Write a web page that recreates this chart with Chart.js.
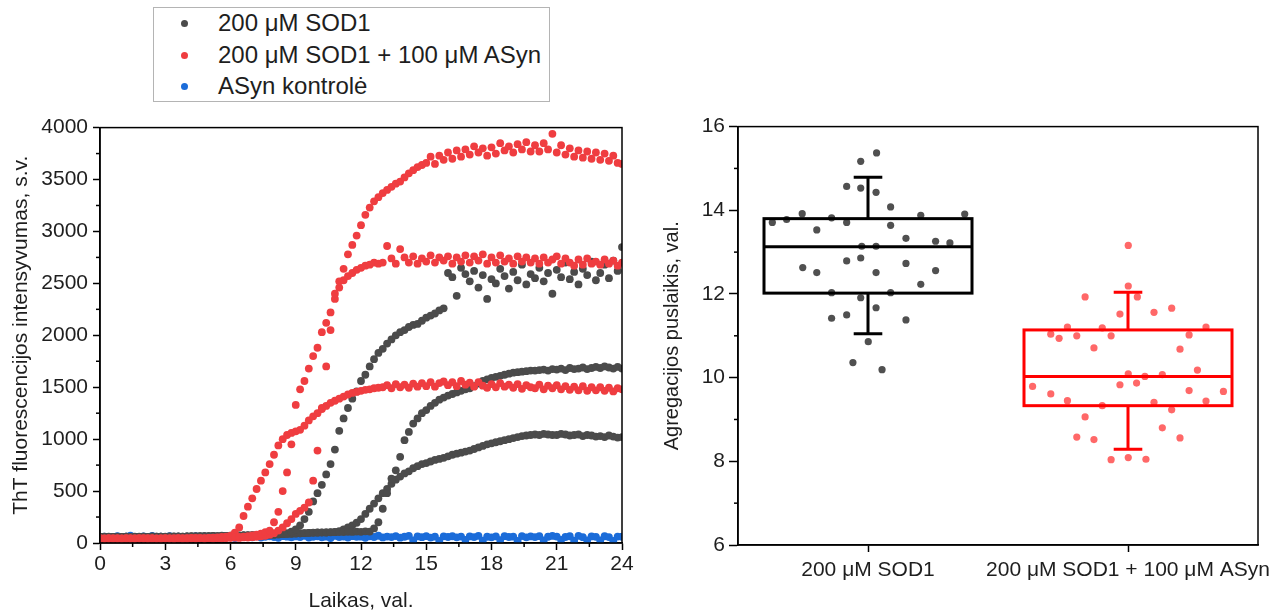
<!DOCTYPE html>
<html>
<head>
<meta charset="utf-8">
<script src="https://cdn.jsdelivr.net/npm/chart.js@4/dist/chart.umd.min.js"></script>
<style>
  html, body { margin: 0; padding: 0; background: #fff; }
  body { width: 1285px; height: 614px; position: relative; overflow: hidden; font-family: 'Liberation Sans', Arial, sans-serif; }
  #kinetics { position: absolute; left: 0; top: 110px; }
  #halftimes { position: absolute; left: 650px; top: 110px; }
  #legend { position: absolute; left: 153px; top: 7px; width: 395px; height: 93px; border: 1.5px solid #b4b4b4; background: #fff; }
  .row { position: absolute; left: 0; height: 30px; line-height: 30px; font-size: 24px; color: #1e1e1e; white-space: nowrap; }
  .row .dot { position: absolute; left: 27px; top: 12px; width: 7px; height: 7px; border-radius: 50%; }
  .row .txt { position: absolute; left: 64px; }
</style>
</head>
<body>
<div id="legend"></div>
<canvas id="kinetics" width="650" height="504"></canvas>
<canvas id="halftimes" width="635" height="504"></canvas>
<script>
// ---- left panel: ThT kinetics ----
const hours = [0,0.2,0.4,0.6,0.8,1,1.2,1.4,1.6,1.8,2,2.2,2.4,2.6,2.8,3,3.2,3.4,3.6,3.8,4,4.2,4.4,4.6,4.8,5,5.2,5.4,5.6,5.8,6,6.2,6.4,6.6,6.8,7,7.2,7.4,7.6,7.8,8,8.2,8.4,8.6,8.8,9,9.2,9.4,9.6,9.8,10,10.2,10.4,10.6,10.8,11,11.2,11.4,11.6,11.8,12,12.2,12.4,12.6,12.8,13,13.2,13.4,13.6,13.8,14,14.2,14.4,14.6,14.8,15,15.2,15.4,15.6,15.8,16,16.2,16.4,16.6,16.8,17,17.2,17.4,17.6,17.8,18,18.2,18.4,18.6,18.8,19,19.2,19.4,19.6,19.8,20,20.2,20.4,20.6,20.8,21,21.2,21.4,21.6,21.8,22,22.2,22.4,22.6,22.8,23,23.2,23.4,23.6,23.8,24];

// 200 uM SOD1 + 100 uM ASyn (three wells)
const mixWell1 = [
  42,45,40,44,43, 41,46,43,40,45, 44,42,46,43,41, 45,43,40,44,46,
  42,45,43,47,44, 46,44,48,45,50, 52,55,58,62,66, 72,80,90,105,120,
  200,300,500,680,950, 1330,1480,1560,1680,1800, 1880,2030,2120,2220,2400, 2520,2640,2780,2870,2960,
  3060,3160,3230,3290,3330, 3370,3400,3430,3460,3480, 3520,3560,3590,3620,3640, 3660,3720,3650,3730,3690,
  3760,3700,3780,3720,3790, 3740,3820,3760,3800,3730, 3810,3750,3850,3780,3820, 3760,3840,3790,3860,3770,
  3830,3770,3850,3790,3940, 3760,3830,3740,3800,3720, 3780,3710,3770,3700,3760, 3690,3750,3680,3730,3660,
  3650
];
const mixWell2 = [
  46,43,47,44,42, 45,42,46,44,47, 43,46,42,45,44, 47,44,42,46,43,
  45,48,44,46,43, 47,45,49,46,48, 50,52,49,54,53, 56,60,64,70,80,
  95,120,150,190,230, 280,310,340,390,600, 890,1300,1700,2050,2350, 2460,2530,2570,2600,2630,
  2650,2670,2680,2700,2690, 2700,2860,2740,2690,2830, 2750,2700,2760,2690,2740, 2710,2770,2700,2750,2720,
  2760,2690,2750,2710,2770, 2700,2760,2720,2780,2690, 2750,2700,2770,2710,2740, 2690,2760,2710,2750,2700,
  2740,2690,2750,2700,2730, 2760,2690,2740,2700,2670, 2730,2680,2740,2690,2710, 2680,2730,2690,2720,2670,
  2700
];
const mixWell3 = [
  44,41,45,43,46, 42,44,41,45,43, 46,43,44,42,45, 43,45,47,44,42,
  46,44,48,45,47, 49,52,55,58,62, 70,100,150,260,350, 430,520,600,680,760,
  850,940,1000,1040,1060, 1075,1090,1130,1180,1220, 1250,1290,1320,1350,1370, 1390,1410,1430,1445,1455,
  1465,1475,1480,1490,1495, 1500,1520,1490,1530,1500, 1525,1495,1535,1505,1540, 1510,1550,1505,1540,1555,
  1520,1550,1510,1560,1525, 1545,1505,1550,1515,1495, 1530,1500,1540,1505,1525, 1495,1530,1485,1520,1500,
  1490,1525,1480,1515,1490, 1520,1480,1510,1475,1505, 1470,1510,1465,1500,1470, 1500,1465,1495,1460,1490,
  1480
];

// 200 uM SOD1 (three wells)
const sodWell1 = [
  55,58,54,57,60, 56,59,55,58,57, 60,57,59,56,61, 58,62,57,60,59,
  61,63,60,64,62, 65,63,67,64,68, 66,70,68,72,71, 74,72,76,78,80,
  82,85,88,95,110, 130,170,230,300,400, 480,560,660,760,900, 1080,1200,1300,1390,1460,
  1560,1620,1700,1770,1830, 1870,1920,1960,2000,2030, 2050,2080,2100,2110,2140, 2170,2190,2210,2240,2260,
  2600,2560,2380,2650,2590, 2520,2620,2460,2580,2350, 2540,2500,2640,2570,2450, 2610,2530,2680,2490,2590,
  2550,2650,2520,2600,2400, 2630,2560,2700,2540,2610, 2490,2640,2580,2710,2530, 2600,2680,2550,2720,2620,
  2850
];
const sodWell2 = [
  60,57,61,58,56, 59,62,57,60,58, 61,58,63,60,62, 59,63,61,64,60,
  63,66,62,65,67, 64,68,66,70,67, 71,69,73,72,75, 74,77,76,80,79,
  82,84,86,88,90, 92,94,96,98,100, 101,103,102,105,104, 106,105,108,107,110,
  108,112,110,140,200, 330,480,620,700,830, 990,1070,1150,1200,1250, 1280,1320,1350,1380,1400,
  1420,1435,1450,1465,1480, 1490,1510,1535,1560,1575, 1590,1600,1610,1620,1630, 1640,1645,1650,1655,1660,
  1660,1665,1670,1660,1675, 1670,1680,1665,1685,1675, 1680,1690,1675,1685,1695, 1685,1700,1690,1680,1695,
  1680
];
const sodWell3 = [
  57,60,56,59,55, 58,61,57,59,62, 59,56,60,62,58, 61,59,63,60,62,
  64,61,65,63,66, 65,68,64,67,69, 68,71,70,73,72, 75,74,78,77,81,
  80,83,85,87,89, 91,93,95,97,98, 99,100,101,103,106, 115,130,150,170,195,
  230,280,330,380,430, 480,520,570,610,640, 670,690,720,740,760, 770,785,800,810,820,
  835,850,860,870,880, 890,905,920,935,950, 960,970,980,990,1000, 1010,1020,1030,1035,1040,
  1045,1040,1050,1045,1040, 1040,1050,1045,1035,1040, 1045,1030,1040,1035,1025, 1030,1020,1035,1025,1015,
  1020
];

// ASyn kontrole
const asynControl = [
  55,62,48,58,66, 52,60,70,57,49, 63,55,68,51,60, 58,66,50,62,55,
  61,53,67,58,64, 50,62,57,69,54, 60,48,65,58,62, 55,67,52,60,64,
  58,50,66,61,55, 63,57,70,52,60, 65,55,61,48,68, 57,62,53,66,59,
  61,50,64,58,70, 54,62,57,67,51, 60,68,25,63,56, 66,52,61,20,64,
  58,65,55,62,30, 63,57,68,22,60, 55,64,28,66,58, 61,20,67,55,63,
  57,66,24,60,68, 62,30,58,65,22, 68,56,26,63,59, 25,65,57,20,62,
  60
];

const timeTicks = [0, 3, 6, 9, 12, 15, 18, 21, 24];
const timeMinor = [1.5, 4.5, 7.5, 10.5, 13.5, 16.5, 19.5, 22.5];
const intensityTicks = [0, 500, 1000, 1500, 2000, 2500, 3000, 3500, 4000];
const intensityMinor = [250, 750, 1250, 1750, 2250, 2750, 3250, 3750];

// ---- right panel: aggregation half-times ----
const groups = ['200 μM SOD1', '200 μM SOD1 + 100 μM ASyn'];
const groupPos = [1, 2];
const sodHalfX = [0.632,0.687,0.747,0.803,0.860,0.918,0.749,0.803,0.918,0.972,0.976,1.031,1.031,0.918,0.972,1.031,0.972,1.033,1.087,1.087,1.146,1.146,1.203,1.260,1.315,1.260,1.203,1.087,0.860,0.972,1.031,0.860,0.918,1.146,1.001,1.372,0.942,1.054];
const sodHalfY = [13.71,13.78,13.92,13.53,13.82,13.71,12.63,12.51,12.79,12.86,13.14,13.14,12.51,14.57,14.53,14.43,15.17,15.37,14.08,13.64,13.33,12.73,13.88,13.26,13.22,12.56,12.23,12.03,12.03,11.91,11.67,11.42,11.50,11.38,10.86,13.91,10.36,10.19];
const mixHalfX = [2.001,2.001,1.835,2.036,1.969,2.100,2.168,1.767,1.901,2.300,1.703,1.735,1.803,1.935,2.235,1.869,2.200,2.267,2.001,2.065,2.132,1.633,1.969,2.033,2.235,2.367,1.703,1.767,1.901,2.100,2.300,2.168,1.835,2.132,1.803,1.869,2.200,1.935,2.001,2.069];
const mixHalfY = [13.16,12.19,11.93,11.93,11.52,11.56,11.66,11.21,11.19,11.21,11.04,10.94,11.00,11.00,11.02,10.71,10.68,10.18,10.09,10.03,10.07,9.79,9.83,9.87,9.69,9.67,9.61,9.45,9.33,9.41,9.44,9.23,9.06,8.80,8.58,8.52,8.56,8.04,8.09,8.05];

const boxQ1 = [12.02, 9.33];
const boxMedian = [13.13, 10.03];
const boxQ3 = [13.80, 11.14];
const whiskerLow = [11.05, 8.29];
const whiskerHigh = [14.79, 12.04];

const halfTicks = [6, 8, 10, 12, 14, 16];
const halfMinor = [7, 9, 11, 13, 15];

const colSod = '#4b4b4b';
const colMix = '#ef3d40';
const colAsyn = '#1b6cd9';

// legend
const legendItems = [
  { label: '200 μM SOD1', color: colSod },
  { label: '200 μM SOD1 + 100 μM ASyn', color: colMix },
  { label: 'ASyn kontrolė', color: colAsyn }
];
const legendEl = document.getElementById('legend');
legendItems.forEach((item, i) => {
  const row = document.createElement('div');
  row.className = 'row';
  row.style.top = (i * 31.5) + 'px';
  row.innerHTML = `<span class="dot" style="background:${item.color}"></span><span class="txt">${item.label}</span>`;
  legendEl.appendChild(row);
});

const toPoints = vals => hours.map((t, i) => ({ x: t, y: vals[i] }));

const framePlugin = {
  id: 'frame',
  afterDraw(chart) {
    const { ctx, chartArea: a } = chart;
    ctx.save();
    ctx.strokeStyle = '#000';
    ctx.lineWidth = 1.5;
    ctx.strokeRect(a.left, a.top, a.right - a.left, a.bottom - a.top);
    ctx.restore();
  }
};

const minorTicks = {
  id: 'minorTicks',
  afterDraw(chart, args, opts) {
    const { ctx, chartArea: a } = chart;
    ctx.save();
    ctx.strokeStyle = '#000';
    ctx.lineWidth = 1.5;
    (opts.x || []).forEach(v => {
      const px = chart.scales.x.getPixelForValue(v);
      ctx.beginPath(); ctx.moveTo(px, a.bottom); ctx.lineTo(px, a.bottom + opts.length); ctx.stroke();
    });
    (opts.y || []).forEach(v => {
      const py = chart.scales.y.getPixelForValue(v);
      ctx.beginPath(); ctx.moveTo(a.left, py); ctx.lineTo(a.left - opts.length, py); ctx.stroke();
    });
    ctx.restore();
  }
};

const boxes = {
  id: 'boxes',
  afterDatasetsDraw(chart, args, opts) {
    const { ctx } = chart;
    const xs = chart.scales.x, ys = chart.scales.y;
    ctx.save();
    ctx.lineWidth = 3;
    groupPos.forEach((p, i) => {
      const l = xs.getPixelForValue(p - opts.halfWidth), r = xs.getPixelForValue(p + opts.halfWidth);
      const c = xs.getPixelForValue(p);
      const cl = xs.getPixelForValue(p - opts.capHalf), cr = xs.getPixelForValue(p + opts.capHalf);
      const q1 = ys.getPixelForValue(boxQ1[i]), q3 = ys.getPixelForValue(boxQ3[i]);
      const md = ys.getPixelForValue(boxMedian[i]);
      const lo = ys.getPixelForValue(whiskerLow[i]), hi = ys.getPixelForValue(whiskerHigh[i]);
      ctx.strokeStyle = opts.colors[i];
      ctx.strokeRect(l, q3, r - l, q1 - q3);
      ctx.beginPath();
      ctx.moveTo(l, md); ctx.lineTo(r, md);
      ctx.moveTo(c, q3); ctx.lineTo(c, hi);
      ctx.moveTo(cl, hi); ctx.lineTo(cr, hi);
      ctx.moveTo(c, q1); ctx.lineTo(c, lo);
      ctx.moveTo(cl, lo); ctx.lineTo(cr, lo);
      ctx.stroke();
    });
    ctx.restore();
  }
};

const font = "'Liberation Sans', Arial, sans-serif";
const textCol = '#1e1e1e';

function curve(vals, color, order) {
  return {
    data: toPoints(vals),
    backgroundColor: color,
    borderColor: color,
    borderWidth: 0,
    pointRadius: 3.9,
    pointHoverRadius: 3.9,
    order: order
  };
}

new Chart(document.getElementById('kinetics'), {
  type: 'scatter',
  data: {
    datasets: [
      curve(asynControl, colAsyn, 2),
      curve(sodWell1, colSod, 1),
      curve(sodWell2, colSod, 1),
      curve(sodWell3, colSod, 1),
      curve(mixWell1, colMix, 0),
      curve(mixWell2, colMix, 0),
      curve(mixWell3, colMix, 0)
    ]
  },
  options: {
    responsive: false,
    animation: false,
    devicePixelRatio: 1,
    layout: { padding: { top: 14, right: 28, left: 0, bottom: 0 } },
    plugins: {
      legend: { display: false },
      tooltip: { enabled: false },
      minorTicks: { x: timeMinor, y: intensityMinor, length: 4 }
    },
    scales: {
      x: {
        type: 'linear', min: 0, max: 24,
        afterBuildTicks: s => { s.ticks = timeTicks.map(v => ({ value: v })); },
        afterFit: s => { s.height = 71; },
        ticks: { color: textCol, font: { family: font, size: 21 }, padding: 2, maxRotation: 0 },
        grid: { drawOnChartArea: false, tickLength: 7, tickColor: '#000', tickWidth: 1.5 },
        border: { color: '#000', width: 1.5 },
        title: { display: true, text: 'Laikas, val.', color: textCol, font: { family: font, size: 21 }, padding: { top: 0, bottom: 0 } }
      },
      y: {
        min: 0, max: 4000,
        afterBuildTicks: s => { s.ticks = intensityTicks.map(v => ({ value: v })); },
        afterFit: s => { s.width = 100; },
        ticks: { color: textCol, font: { family: font, size: 21 }, padding: 5, callback: v => String(v) },
        grid: { drawOnChartArea: false, tickLength: 7, tickColor: '#000', tickWidth: 1.5 },
        border: { color: '#000', width: 1.5 },
        title: { display: true, text: 'ThT fluorescencijos intensyvumas, s.v.', color: textCol, font: { family: font, size: 21 }, padding: { top: 9, bottom: 0 } }
      }
    }
  },
  plugins: [framePlugin, minorTicks]
});

new Chart(document.getElementById('halftimes'), {
  type: 'scatter',
  data: {
    datasets: [
      {
        data: sodHalfX.map((x, i) => ({ x: x, y: sodHalfY[i] })),
        backgroundColor: '#505050', borderWidth: 0, pointRadius: 3.6, pointHoverRadius: 3.6
      },
      {
        data: mixHalfX.map((x, i) => ({ x: x, y: mixHalfY[i] })),
        backgroundColor: '#ff6868', borderWidth: 0, pointRadius: 3.6, pointHoverRadius: 3.6
      }
    ]
  },
  options: {
    responsive: false,
    animation: false,
    devicePixelRatio: 1,
    layout: { padding: { top: 15, right: 27, left: 0, bottom: 0 } },
    plugins: {
      legend: { display: false },
      tooltip: { enabled: false },
      minorTicks: { y: halfMinor, length: 4 },
      boxes: { halfWidth: 0.4, capHalf: 0.055, colors: ['#000000', '#ff0000'] }
    },
    scales: {
      x: {
        type: 'linear', min: 0.5, max: 2.5,
        afterBuildTicks: s => { s.ticks = groupPos.map(v => ({ value: v })); },
        afterFit: s => { s.height = 69; },
        ticks: { color: textCol, font: { family: font, size: 21 }, padding: 6, maxRotation: 0, minRotation: 0, autoSkip: false,
          callback: v => groups[groupPos.indexOf(v)] },
        grid: { drawOnChartArea: false, tickLength: 7, tickColor: '#000', tickWidth: 1.5 },
        border: { color: '#000', width: 1.5 }
      },
      y: {
        min: 6, max: 16,
        afterBuildTicks: s => { s.ticks = halfTicks.map(v => ({ value: v })); },
        afterFit: s => { s.width = 88; },
        ticks: { color: textCol, font: { family: font, size: 21 }, padding: 4, callback: v => String(v) },
        grid: { drawOnChartArea: false, tickLength: 9, tickColor: '#000', tickWidth: 1.5 },
        border: { color: '#000', width: 1.5 },
        title: { display: true, text: 'Agregacijos puslaikis, val.', color: textCol, font: { family: font, size: 20 }, padding: { top: 10, bottom: 0 } }
      }
    }
  },
  plugins: [framePlugin, minorTicks, boxes]
});
</script>
</body>
</html>
